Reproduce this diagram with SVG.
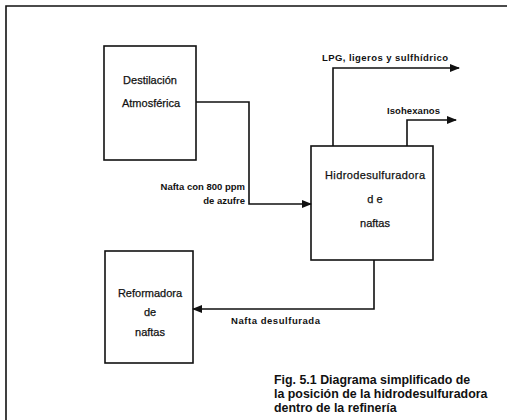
<svg xmlns="http://www.w3.org/2000/svg" width="507" height="420" viewBox="0 0 507 420">
<style>
.box{fill:none;stroke:#111;stroke-width:1.6}
.ln{fill:none;stroke:#111;stroke-width:1.6}
.t{font-family:"Liberation Sans",Arial,sans-serif;font-size:11px;fill:#111;stroke:#111;stroke-width:0.25;text-anchor:middle}
.s{font-family:"Liberation Sans",Arial,sans-serif;font-size:9.5px;font-weight:bold;fill:#111}
.c{font-family:"Liberation Sans",Arial,sans-serif;font-size:12.4px;font-weight:bold;fill:#111}
</style>
<defs>
<marker id="ah" markerWidth="10" markerHeight="8" refX="9" refY="4" orient="auto" markerUnits="userSpaceOnUse">
<path d="M0,0 L10,4 L0,8 z" fill="#111"/>
</marker>
</defs>
<rect width="507" height="420" fill="#fff"/>
<path class="ln" d="M6,420 V6 H507"/>
<g id="destilacion">
<rect class="box" x="104" y="46" width="92" height="114"/>
<text class="t" x="150" y="84">Destilación</text>
<text class="t" x="151" y="107">Atmosférica</text>
</g>
<g id="hidro">
<rect class="box" x="311" y="146" width="122" height="114"/>
<text class="t" x="375" y="179" textLength="100" lengthAdjust="spacing">Hidrodesulfuradora</text>
<text class="t" x="375" y="203">d e</text>
<text class="t" x="375" y="227">naftas</text>
</g>
<g id="reformadora">
<rect class="box" x="105" y="251" width="88" height="112"/>
<text class="t" x="150" y="297">Reformadora</text>
<text class="t" x="150" y="316">de</text>
<text class="t" x="150" y="336">naftas</text>
</g>
<g id="connectors">
<path class="ln" d="M196,102 H249 V204 H311" marker-end="url(#ah)"/>
<path class="ln" d="M333,146 V68 H459" marker-end="url(#ah)"/>
<path class="ln" d="M407,146 V120 H456" marker-end="url(#ah)"/>
<path class="ln" d="M374,260 V309 H193" marker-end="url(#ah)"/>
</g>
<g id="labels">
<text class="s" x="245" y="190" text-anchor="end">Nafta con 800 ppm</text>
<text class="s" x="245" y="204" text-anchor="end">de azufre</text>
<text class="s" x="322" y="61" textLength="126" lengthAdjust="spacing">LPG, ligeros  y sulfhídrico</text>
<text class="s" x="387" y="114" textLength="53" lengthAdjust="spacing">Isohexanos</text>
<text class="s" x="231" y="324" textLength="89" lengthAdjust="spacing">Nafta  desulfurada</text>
<text class="c" x="274" y="384">Fig. 5.1 Diagrama simplificado de</text>
<text class="c" x="274" y="398">la posición de la hidrodesulfuradora</text>
<text class="c" x="274" y="412">dentro de la refinería</text>
</g>
</svg>
